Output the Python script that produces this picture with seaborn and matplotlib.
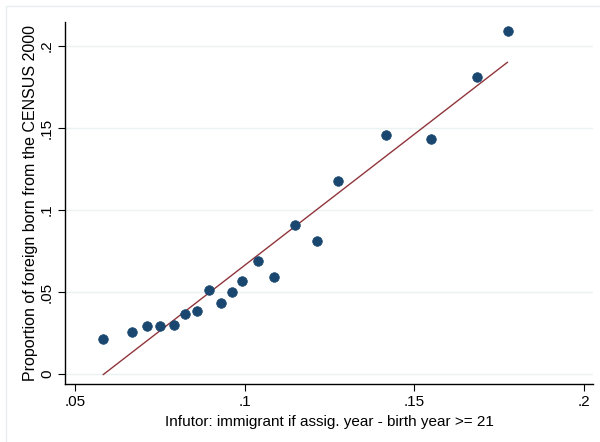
import matplotlib
matplotlib.use("Agg")
import matplotlib.pyplot as plt
import seaborn as sns
import pandas as pd
from matplotlib.patches import Rectangle

infutor_share = [0.0583, 0.0668, 0.0711, 0.0750, 0.0791, 0.0824, 0.0859, 0.0896,
                 0.0930, 0.0962, 0.0994, 0.1040, 0.1086, 0.1149, 0.1214, 0.1277,
                 0.1417, 0.1550, 0.1687, 0.1776]
census_share = [0.0215, 0.0254, 0.0291, 0.0293, 0.0299, 0.0368, 0.0386, 0.0514,
                0.0433, 0.0502, 0.0567, 0.0691, 0.0591, 0.0911, 0.0811, 0.1179,
                0.1455, 0.1431, 0.1811, 0.2093]
x_ticks = [0.05, 0.10, 0.15, 0.20]
x_tick_labels = [".05", ".1", ".15", ".2"]
y_ticks = [0.0, 0.05, 0.10, 0.15, 0.20]
y_tick_labels = ["0", ".05", ".1", ".15", ".2"]

df = pd.DataFrame({"x": infutor_share, "y": census_share})

sns.set_theme(style="white")
plt.rcParams['font.family'] = ['Liberation Sans', 'DejaVu Sans']

fig = plt.figure(figsize=(6.0, 4.42), dpi=100)
fig.patch.set_facecolor("white")
ax = fig.add_axes([65/600, 1-384/442, (593-65)/600, (384-22)/442])
ax.set_facecolor("white")

sns.regplot(data=df, x="x", y="y", ax=ax, ci=None, scatter=False,
            line_kws=dict(color="#90353b", lw=1.0), truncate=True)
sns.scatterplot(data=df, x="x", y="y", ax=ax, color="#1a476f", s=48,
                edgecolor="#1a476f", linewidth=0.5, zorder=3)

ax.set_xlim(0.04705, 0.2028)
ax.set_ylim(-0.0061, 0.2146)
ax.set_xticks(x_ticks)
ax.set_xticklabels(x_tick_labels, fontsize=11)
ax.set_yticks(y_ticks)
ax.set_yticklabels(y_tick_labels, fontsize=11, rotation=90, va="center")
ax.yaxis.grid(True, color="#eaf2f3", lw=1.0)
ax.xaxis.grid(False)
ax.set_axisbelow(True)
for s in ["top", "right"]:
    ax.spines[s].set_visible(False)
for s in ["left", "bottom"]:
    ax.spines[s].set_color("black")
    ax.spines[s].set_linewidth(1.0)
ax.tick_params(axis="both", direction="out", length=5, width=0.8, color="black",
               labelcolor="black", pad=3, bottom=True, left=True)
ax.set_xlabel("Infutor: immigrant if assig. year - birth year >= 21", fontsize=11,
              color="black", labelpad=4)
ax.set_ylabel("Proportion of foreign born from the CENSUS 2000", fontsize=11.5,
              color="black", labelpad=1)

fig.patches.append(Rectangle((6/600, -0.1), 1.2, 1-6/442+0.1, transform=fig.transFigure,
                             fill=False, edgecolor="#e6eef0", lw=1.0))

fig.savefig("out.png", dpi=100, facecolor="white")
